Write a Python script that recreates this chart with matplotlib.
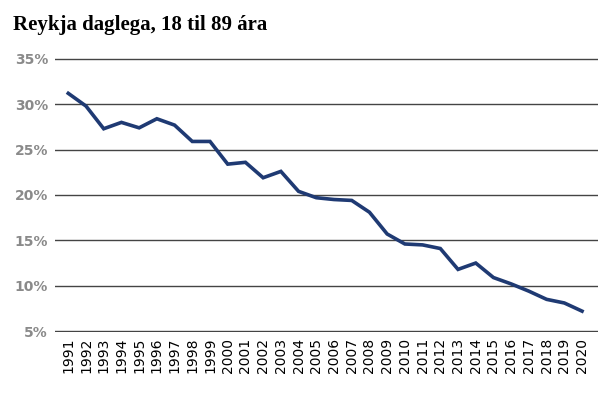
import matplotlib.pyplot as plt
from matplotlib.ticker import FuncFormatter

years = [str(y) for y in range(1991, 2021)]
smokers = [31.2, 29.8, 27.3, 28.0, 27.4, 28.4, 27.7, 25.9, 25.9, 23.4,
           23.6, 21.9, 22.6, 20.4, 19.7, 19.5, 19.4, 18.1, 15.7, 14.6,
           14.5, 14.1, 11.8, 12.5, 10.9, 10.2, 9.4, 8.5, 8.1, 7.2]
y_ticks = [5, 10, 15, 20, 25, 30, 35]

fig = plt.figure(figsize=(6.13, 3.97), dpi=100)
ax = fig.add_axes([0.0897, 0.1637, 0.8858, 0.6903])

x = list(range(len(years)))
ax.plot(x, smokers, color='#1f3a73', linewidth=2.6, solid_joinstyle='miter', zorder=3)

ax.set_ylim(4.9, 35.1)
ax.set_xlim(-0.75, 29.9)
ax.set_yticks(y_ticks)
ax.yaxis.set_major_formatter(FuncFormatter(lambda v, p: f'{v:.0f}%'))
ax.set_xticks(x)
ax.set_xticklabels(years, rotation=90, fontsize=10, family='DejaVu Sans')

for t in ax.get_yticklabels():
    t.set_family('DejaVu Sans')
    t.set_fontweight('bold')
    t.set_color('#8a8a8a')
    t.set_fontsize(10)

ax.grid(axis='y', color='#444444', linewidth=1)
ax.set_axisbelow(True)
ax.tick_params(axis='both', length=0)
ax.tick_params(axis='y', pad=5)
ax.tick_params(axis='x', pad=4)
for s in ax.spines.values():
    s.set_visible(False)

fig.text(0.021, 0.937, 'Reykja daglega, 18 til 89 ára', family='Liberation Serif',
         fontsize=15, fontweight='bold', va='center', ha='left')

fig.savefig('out.png', dpi=100)
